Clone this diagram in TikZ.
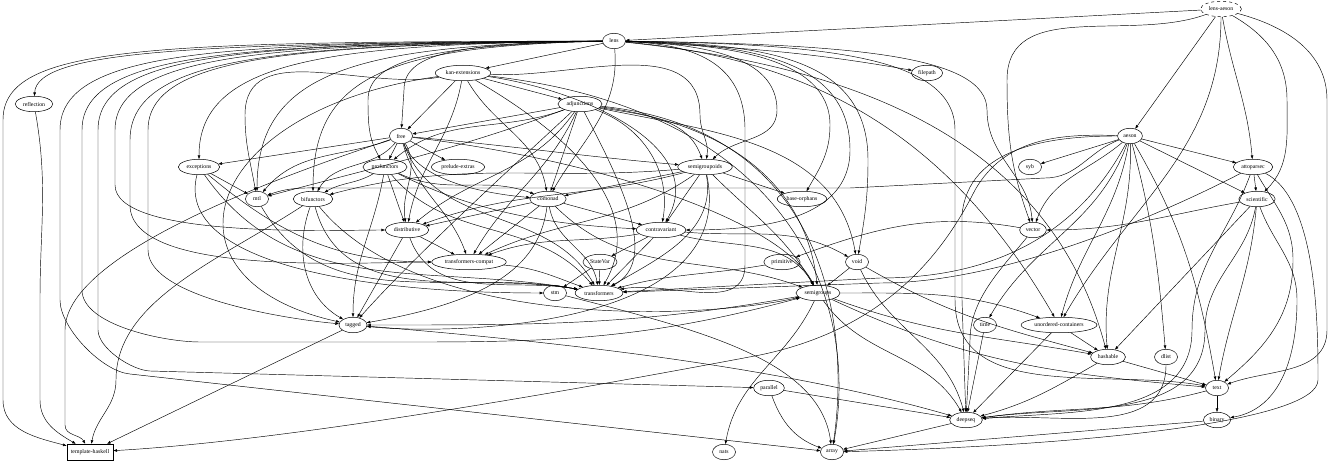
\documentclass[tikz,border=0pt]{standalone}
\usepackage{fontspec}
\setmainfont{Liberation Serif}
\usetikzlibrary{arrows.meta,shapes.geometric}
\begin{document}
\begin{tikzpicture}[x=1pt,y=1pt,
  nd/.style={draw,ellipse,line width=0.5pt,inner xsep=2.2pt,inner ysep=0pt,minimum height=15.5pt,minimum width=23pt,font=\fontsize{5.8}{6}\selectfont},
  bx/.style={draw,rectangle,line width=0.5pt,inner xsep=4pt,inner ysep=0pt,minimum height=16pt,font=\fontsize{5.8}{6}\selectfont},
  ed/.style={line width=0.45pt,-{Triangle[length=3.6pt,width=2.6pt]}}]
\useasboundingbox (0,0) rectangle (1337,-462);
% nodes
\node[nd,dashed] (la) at (1221,-9) {lens-aeson};
\node[nd] (lens) at (614,-41) {lens};
\node[nd] (kan) at (463,-73) {kan-extensions};
\node[nd] (filepath) at (927,-73) {filepath};
\node[nd] (refl) at (34,-104) {reflection};
\node[nd] (adj) at (580,-104) {adjunctions};
\node[nd] (free) at (401,-136) {free};
\node[nd] (aeson) at (1130,-136) {aeson};
\node[nd] (syb) at (1030,-167) {syb};
\node[nd] (prel) at (458,-167) {prelude-extras};
\node[nd] (exc) at (199,-167) {exceptions};
\node[nd] (prof) at (385,-167) {profunctors};
\node[nd] (sgd) at (705,-167) {semigroupoids};
\node[nd] (atto) at (1253,-167) {attoparsec};
\node[nd] (mtl) at (257,-199) {mtl};
\node[nd] (bif) at (313,-199) {bifunctors};
\node[nd] (com) at (548,-199) {comonad};
\node[nd] (bo) at (802,-199) {base-orphans};
\node[nd] (sci) at (1257,-199) {scientific};
\node[nd] (dist) at (407,-230) {distributive};
\node[nd] (contra) at (661,-230) {contravariant};
\node[nd] (vec) at (1033,-230) {vector};
\node[nd] (tc) at (469,-262) {transformers-compat};
\node[nd] (sv) at (600,-262) {StateVar};
\node[nd] (prim) at (782,-262) {primitive};
\node[nd] (void) at (857,-262) {void};
\node[nd] (stm) at (555,-293) {stm};
\node[nd] (tr) at (599,-293) {transformers};
\node[nd] (sg) at (818,-293) {semigroups};
\node[nd] (tag) at (353,-325) {tagged};
\node[nd] (time) at (985,-325) {time};
\node[nd] (uc) at (1059,-325) {unordered-containers};
\node[nd] (hash) at (1108,-357) {hashable};
\node[nd] (dlist) at (1166,-357) {dlist};
\node[nd] (text) at (1217,-388) {text};
\node[nd] (par) at (769,-388) {parallel};
\node[nd] (ds) at (966,-420) {deepseq};
\node[nd] (bin) at (1217,-420) {binary};
\node[bx] (th) at (90,-452) {template-haskell};
\node[nd] (nats) at (724,-452) {nats};
\node[nd] (arr) at (832,-452) {array};
% lens-aeson
\draw[ed] (la) -- (lens);
\draw[ed] (la) -- (aeson);
\draw[ed] (la) to[out=200,in=90] (1007,-80) to[out=-90,in=110] (vec);
\draw[ed] (la) to[out=-90,in=60] (uc);
\draw[ed] (la) to[out=-80,in=95] (atto);
\draw[ed] (la) to[out=-30,in=90] (1287,-100) to[out=-90,in=45] (sci);
\draw[ed] (la) to[out=-15,in=90] (1327,-100) -- (1327,-330) to[out=-90,in=20] (text);
% lens, left fan
\draw[ed] (lens) -- (kan);
\draw[ed] (lens) to[out=-3,in=170] (filepath);
\draw[ed] (lens) .. controls (200,-43) and (37,-50) .. (refl);
\draw[ed] (lens) .. controls (150,-42) and (3,-45) .. (3,-120) -- (3,-400) to[out=-90,in=165] (th);
\draw[ed] (lens) .. controls (230,-43) and (60,-48) .. (60,-130) -- (60,-300) to[out=-90,in=175,looseness=0.7] (130,-374) -- (arr);
\draw[ed] (lens) .. controls (250,-44) and (82,-50) .. (82,-130) -- (82,-290) to[out=-90,in=180,looseness=0.7] (200,-342) -- (420,-342) to[out=0,in=195] (sg);
\draw[ed] (lens) .. controls (260,-44) and (98,-50) .. (98,-130) -- (98,-330) to[out=-90,in=178,looseness=0.7] (150,-371) -- (par);
\draw[ed] (lens) .. controls (280,-44) and (115,-52) .. (115,-130) -- (115,-185) to[out=-90,in=180,looseness=0.5] (dist);
\draw[ed] (lens) .. controls (290,-45) and (130,-54) .. (130,-140) -- (130,-205) to[out=-90,in=180,looseness=0.6] (tc);
\draw[ed] (lens) .. controls (300,-45) and (148,-55) .. (148,-130) -- (148,-250) to[out=-90,in=175,looseness=0.6] (tag);
\draw[ed] (lens) .. controls (330,-44) and (199,-60) .. (exc);
\draw[ed] (lens) .. controls (360,-45) and (257,-70) .. (mtl);
\draw[ed] (lens) .. controls (380,-46) and (313,-80) .. (bif);
\draw[ed] (lens) .. controls (430,-45) and (368,-60) .. (368,-100) to[out=-90,in=120] (prof);
\draw[ed] (lens) .. controls (450,-43) and (404,-55) .. (404,-90) -- (free);
\draw[ed] (lens) to[out=-85,in=60] (com);
% lens, right fan
\draw[ed] (lens) .. controls (700,-44) and (777,-55) .. (777,-110) to[out=-90,in=45] (sgd);
\draw[ed] (lens) .. controls (720,-44) and (830,-55) .. (830,-125) to[out=-90,in=60] (bo);
\draw[ed] (lens) .. controls (740,-44) and (850,-55) .. (850,-150) to[out=-90,in=0] (contra);
\draw[ed] (lens) .. controls (760,-44) and (868,-55) .. (868,-160) to[out=-90,in=80] (void);
\draw[ed] (lens) .. controls (850,-44) and (987,-55) .. (987,-110) to[out=-90,in=95] (vec);
\draw[ed] (lens) to[out=-6,in=105] (hash);
\draw[ed] (lens) to[out=-5,in=120] (uc);
\draw[ed] (lens) .. controls (820,-44) and (955,-55) .. (955,-130) -- (955,-300) to[out=-90,in=170] (text);
\draw[ed] (lens) .. controls (690,-44) and (745,-60) .. (745,-130) -- (745,-265) to[out=-90,in=10] (tr);
% kan-extensions
\draw[ed] (kan) -- (adj);
\draw[ed] (kan) -- (free);
\draw[ed] (kan) to[out=190,in=90] (245,-115) to[out=-90,in=100] (mtl);
\draw[ed] (kan) to[out=-60,in=100] (com);
\draw[ed] (kan) to[out=-3,in=90] (700,-115) to[out=-90,in=80] (sgd);
\draw[ed] (kan) to[out=-8,in=60] (contra);
\draw[ed] (kan) .. controls (200,-110) and (150,-280) .. (tag);
\draw[ed] (kan) to[out=-100,in=80] (dist);
\draw[ed] (kan) to[out=-30,in=60] (tr);
\draw[ed] (kan) .. controls (790,-110) and (860,-300) .. (arr);
% adjunctions
\draw[ed] (adj) -- (free);
\draw[ed] (adj) to[out=-160,in=40] (prof);
\draw[ed] (adj) -- (com);
\draw[ed] (adj) to[out=-20,in=80] (contra);
\draw[ed] (adj) to[out=-125,in=40] (dist);
\draw[ed] (adj) to[out=-160,in=15] (mtl);
\draw[ed] (adj) to[out=-10,in=110] (sgd);
\draw[ed] (adj) .. controls (770,-130) and (810,-220) .. (sg);
\draw[ed] (adj) .. controls (520,-160) and (420,-250) .. (tag);
\draw[ed] (adj) .. controls (620,-180) and (660,-260) .. (tr);
\draw[ed] (adj) to[out=-115,in=60] (tc);
\draw[ed] (adj) to[out=-12,in=100] (void);
\draw[ed] (adj) .. controls (830,-130) and (850,-330) .. (arr);
% free
\draw[ed] (free) -- (exc);
\draw[ed] (free) to[out=-160,in=50] (mtl);
\draw[ed] (free) to[out=-130,in=60] (bif);
\draw[ed] (free) -- (prof);
\draw[ed] (free) -- (prel);
\draw[ed] (free) to[out=-5,in=175] (sgd);
\draw[ed] (free) .. controls (420,-185) and (500,-195) .. (com);
\draw[ed] (free) to[out=-60,in=100] (dist);
\draw[ed] (free) .. controls (600,-160) and (780,-220) .. (sg);
\draw[ed] (free) .. controls (300,-170) and (65,-250) .. (65,-330) -- (65,-425) to[out=-90,in=120] (th);
\draw[ed] (free) to[out=-70,in=120] (tr);
\draw[ed] (free) to[out=-75,in=110] (tc);
% profunctors
\draw[ed] (prof) to[out=-150,in=30] (bif);
\draw[ed] (prof) to[out=-25,in=160] (com);
\draw[ed] (prof) .. controls (480,-215) and (560,-225) .. (contra);
\draw[ed] (prof) -- (dist);
\draw[ed] (prof) to[out=-100,in=90] (tag);
\draw[ed] (prof) to[out=-50,in=130] (tr);
% exceptions
\draw[ed] (exc) -- (mtl);
\draw[ed] (exc) .. controls (175,-260) and (350,-293) .. (stm);
\draw[ed] (exc) to[out=-55,in=170] (tr);
\draw[ed] (exc) to[out=-40,in=180] (tc);
% mtl, bifunctors
\draw[ed] (mtl) to[out=-60,in=170] (tr);
\draw[ed] (bif) .. controls (220,-260) and (116,-300) .. (116,-380) to[out=-90,in=80] (th);
\draw[ed] (bif) to[out=-110,in=150] (tag);
\draw[ed] (bif) .. controls (420,-330) and (700,-320) .. (sg);
\draw[ed] (bif) to[out=-75,in=170] (tr);
% semigroupoids
\draw[ed] (sgd) -- (bo);
\draw[ed] (sgd) to[out=185,in=15] (bif);
\draw[ed] (sgd) -- (com);
\draw[ed] (sgd) -- (contra);
\draw[ed] (sgd) to[out=-165,in=20] (dist);
\draw[ed] (sgd) to[out=-45,in=120] (sg);
\draw[ed] (sgd) .. controls (740,-330) and (450,-335) .. (tag);
\draw[ed] (sgd) to[out=-80,in=30] (tr);
\draw[ed] (sgd) to[out=-145,in=25] (tc);
% comonad
\draw[ed] (com) -- (contra);
\draw[ed] (com) -- (dist);
\draw[ed] (com) to[out=-45,in=160] (sg);
\draw[ed] (com) .. controls (540,-260) and (500,-300) .. (tag);
\draw[ed] (com) to[out=-80,in=100] (tr);
\draw[ed] (com) -- (tc);
% distributive
\draw[ed] (dist) -- (tag);
\draw[ed] (dist) to[out=-70,in=170] (tr);
\draw[ed] (dist) -- (tc);
% contravariant
\draw[ed] (contra) -- (sv);
\draw[ed] (contra) to[out=-15,in=120] (sg);
\draw[ed] (contra) -- (tr);
\draw[ed] (contra) to[out=190,in=20] (tc);
\draw[ed] (contra) to[out=-5,in=150] (void);
% vector and others
\draw[ed] (vec) to[out=170,in=20] (prim);
\draw[ed] (vec) .. controls (1000,-270) and (970,-300) .. (970,-340) -- (ds);
\draw[ed] (tc) to[out=-5,in=160] (tr);
\draw[ed] (sv) -- (stm);
\draw[ed] (sv) -- (tr);
\draw[ed] (prim) to[out=190,in=15] (tr);
\draw[ed] (void) -- (sg);
\draw[ed] (void) to[out=-65,in=105] (ds);
\draw[ed] (void) to[out=-30,in=165] (hash);
\draw[ed] (stm) .. controls (700,-330) and (820,-360) .. (arr);
\draw[ed] (sg) to[out=190,in=0] (tag);
\draw[ed] (sg) to[out=-115,in=80] (nats);
\draw[ed] (sg) to[out=-55,in=120] (ds);
\draw[ed] (sg) to[out=-20,in=170] (hash);
\draw[ed] (sg) to[out=-25,in=175] (text);
\draw[ed] (sg) to[out=0,in=160] (uc);
\draw[ed] (tag) -- (th);
\draw[ed] (tag) .. controls (600,-345) and (800,-372) .. (ds);
\draw[ed] (time) -- (ds);
\draw[ed] (uc) -- (hash);
\draw[ed] (uc) -- (ds);
\draw[ed] (hash) -- (text);
\draw[ed] (hash) to[out=-150,in=15] (ds);
\draw[ed] (dlist) to[out=-90,in=5] (ds);
\draw[ed] (text) -- (bin);
\draw[ed] (text) to[out=-165,in=8] (ds);
\draw[ed] (par) -- (ds);
\draw[ed] (par) to[out=-70,in=160] (arr);
\draw[ed] (ds) -- (arr);
\draw[ed] (bin) -- (arr);
\draw[ed] (refl) to[out=-80,in=90] (40,-300) -- (40,-400) to[out=-90,in=150] (th);
% aeson
\draw[ed] (aeson) -- (syb);
\draw[ed] (aeson) -- (atto);
\draw[ed] (aeson) -- (sci);
\draw[ed] (aeson) to[out=-140,in=70] (vec);
\draw[ed] (aeson) to[out=200,in=0] (1045,-178) -- (850,-188) -- (330,-188) to[out=180,in=20] (mtl);
\draw[ed] (aeson) to[out=178,in=60] (975,-190) .. controls (940,-260) and (880,-330) .. (760,-355) .. controls (600,-385) and (300,-440) .. (th);
\draw[ed] (aeson) to[out=180,in=85] (962,-215) -- (962,-300) -- (ds);
\draw[ed] (aeson) to[out=-110,in=60] (time);
\draw[ed] (aeson) to[out=-100,in=75] (uc);
\draw[ed] (aeson) to[out=-88,in=95] (hash);
\draw[ed] (aeson) to[out=-75,in=95] (dlist);
\draw[ed] (aeson) to[out=-60,in=100] (text);
\draw[ed] (aeson) .. controls (1080,-230) and (1000,-278) .. (880,-278) -- (tr);
% attoparsec
\draw[ed] (atto) -- (sci);
\draw[ed] (atto) .. controls (1150,-220) and (1000,-283) .. (880,-283) -- (tr);
\draw[ed] (atto) to[out=-60,in=90] (1293,-260) to[out=-90,in=40] (text);
\draw[ed] (atto) to[out=-110,in=90] (1192,-330) to[out=-90,in=5] (ds);
\draw[ed] (atto) .. controls (1318,-200) and (1318,-330) .. (1318,-380) .. controls (1318,-420) and (1100,-445) .. (arr);
% scientific
\draw[ed] (sci) to[out=190,in=0] (vec);
\draw[ed] (sci) -- (hash);
\draw[ed] (sci) to[out=-95,in=80] (text);
\draw[ed] (sci) to[out=-100,in=90] (1205,-330) to[out=-90,in=8] (ds);
\draw[ed] (sci) to[out=-70,in=90] (1297,-300) to[out=-90,in=10] (bin);
\end{tikzpicture}
\end{document}
